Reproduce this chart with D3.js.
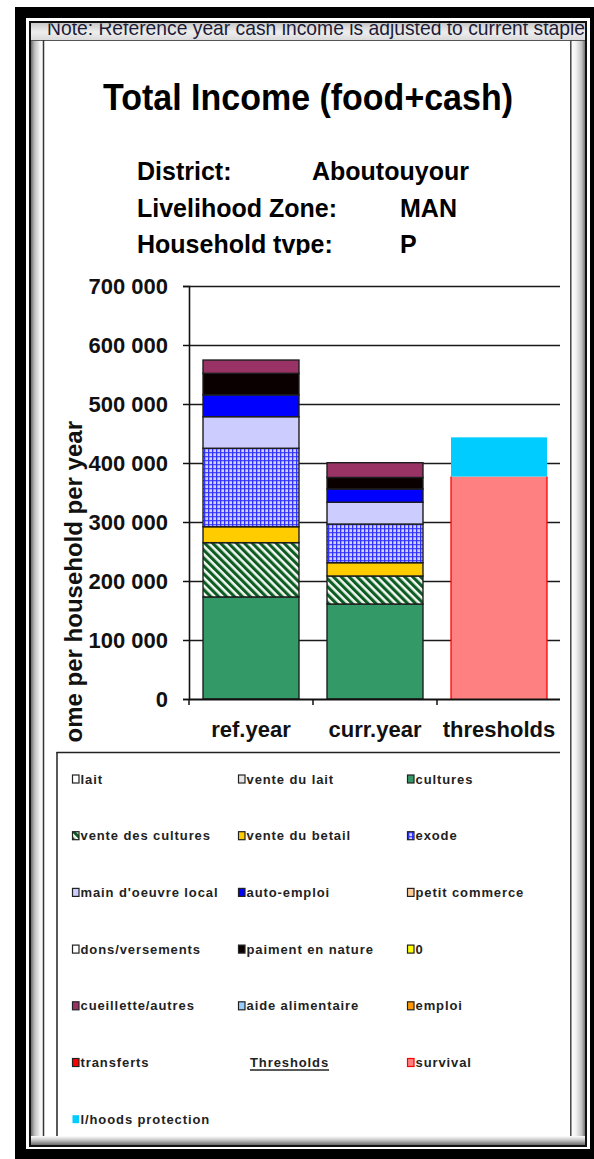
<!DOCTYPE html>
<html><head><meta charset="utf-8">
<script src="https://cdn.jsdelivr.net/npm/d3@7"></script>
<style>
html,body{margin:0;padding:0;background:#fff;}
svg{display:block;}
text{font-family:"Liberation Sans",Arial,Helvetica,sans-serif;}
</style></head><body>
<svg id="chart" width="594" height="1159"></svg>
<script>
// ---------------- data ----------------
const categories = ["ref.year", "curr.year", "thresholds"];
const incomeSources = ["cultures", "vente des cultures", "vente du betail", "exode",
  "main d'oeuvre local", "auto-emploi", "paiment en nature", "cueillette/autres"];
const refYearValues  = [173000, 92000, 27000, 133000, 53500, 37000, 36500, 22500];
const currYearValues = [161000, 47500, 22500, 65500, 37000, 22500, 19500, 25000];
const thresholdNames  = ["survival", "l/hoods protection"];
const thresholdValues = [377000, 66500];
const yTickValues = [0, 100000, 200000, 300000, 400000, 500000, 600000, 700000];
const legendLabels = ["lait", "vente du lait", "cultures",
  "vente des cultures", "vente du betail", "exode",
  "main d'oeuvre local", "auto-emploi", "petit commerce",
  "dons/versements", "paiment en nature", "0",
  "cueillette/autres", "aide alimentaire", "emploi",
  "transferts", "Thresholds", "survival",
  "l/hoods protection"];
const titleText = "Total Income (food+cash)";
const noteText = "Note: Reference year cash income is adjusted to current staple";
const headerLabels = ["District:", "Livelihood Zone:", "Household tvpe:"];
const headerValues = ["Aboutouyour", "MAN", "P"];
const yAxisTitle = "ome per household per year";

// ---------------- styles ----------------
const fills = {
  "lait": "#ffffff", "vente du lait": "#e6e6e6", "cultures": "#339966",
  "vente des cultures": "url(#stripe)", "vente du betail": "#ffcc00", "exode": "url(#grid)",
  "main d'oeuvre local": "#ccccff", "auto-emploi": "#0000ff", "petit commerce": "#ffcc99",
  "dons/versements": "#ffffff", "paiment en nature": "#0a0000", "0": "#ffff00",
  "cueillette/autres": "#993366", "aide alimentaire": "#99ccff", "emploi": "#ff9900",
  "transferts": "#ff0000", "survival": "#ff8080", "l/hoods protection": "#00ccff"
};

const svg = d3.select("#chart");
const defs = svg.append("defs");

function linGrad(id, x2, y2, stops) {
  const g = defs.append("linearGradient").attr("id", id)
    .attr("x1", 0).attr("y1", 0).attr("x2", x2).attr("y2", y2);
  stops.forEach(s => g.append("stop").attr("offset", s[0]).attr("stop-color", s[1]));
}
linGrad("gL", 1, 0, [[0, "#6e6e6e"], [0.3, "#bdbdbd"], [0.75, "#f4f4f4"], [1, "#ffffff"]]);
linGrad("gR", 1, 0, [[0, "#ffffff"], [0.35, "#f2f2f2"], [0.75, "#c4c4c4"], [1, "#767676"]]);
linGrad("gT", 0, 1, [[0, "#c8c8c8"], [0.5, "#eeeeee"], [1, "#d8d8d8"]]);
linGrad("gB", 0, 1, [[0, "#ffffff"], [0.4, "#cfcfcf"], [1, "#6a6a6a"]]);

const pStripe = defs.append("pattern").attr("id", "stripe")
  .attr("patternUnits", "userSpaceOnUse").attr("width", 5.6).attr("height", 5.6)
  .attr("patternTransform", "rotate(-45)");
pStripe.append("rect").attr("width", 5.6).attr("height", 5.6).attr("fill", "#f4f8f4");
pStripe.append("rect").attr("width", 3.1).attr("height", 5.6).attr("fill", "#0d5c22");

const pGrid = defs.append("pattern").attr("id", "grid")
  .attr("patternUnits", "userSpaceOnUse").attr("width", 4).attr("height", 4);
pGrid.append("rect").attr("width", 4).attr("height", 4).attr("fill", "#d2d2ff");
pGrid.append("rect").attr("width", 4).attr("height", 1.3).attr("fill", "#4a4aff");
pGrid.append("rect").attr("width", 1.3).attr("height", 4).attr("fill", "#3030ff");

defs.append("clipPath").attr("id", "chartClip").append("rect")
  .attr("x", 43).attr("y", 41).attr("width", 517).attr("height", 1100);
defs.append("clipPath").attr("id", "headClip").append("rect")
  .attr("x", 43).attr("y", 41).attr("width", 517).attr("height", 214);
defs.append("clipPath").attr("id", "noteClip").append("rect")
  .attr("x", 31).attr("y", 23.5).attr("width", 554).attr("height", 16.5);
defs.append("clipPath").attr("id", "plotClip").append("rect")
  .attr("x", 43).attr("y", 255).attr("width", 517).attr("height", 497);

// ---------------- frame ----------------
svg.append("rect").attr("x", 15).attr("y", 7).attr("width", 579).attr("height", 1152).attr("fill", "#000");
svg.append("rect").attr("x", 26).attr("y", 18).attr("width", 564).attr("height", 1131).attr("fill", "#fff");
svg.append("rect").attr("x", 29).attr("y", 21).attr("width", 558).attr("height", 1126).attr("fill", "#111");
svg.append("rect").attr("x", 31).attr("y", 23).attr("width", 554).attr("height", 1122).attr("fill", "#d0d0d0");
svg.append("rect").attr("x", 31).attr("y", 23).attr("width", 12).attr("height", 1122).attr("fill", "url(#gL)");
svg.append("rect").attr("x", 571).attr("y", 23).attr("width", 14).attr("height", 1122).attr("fill", "url(#gR)");
svg.append("rect").attr("x", 31).attr("y", 23).attr("width", 554).attr("height", 18).attr("fill", "url(#gT)");
svg.append("rect").attr("x", 43).attr("y", 41).attr("width", 528).attr("height", 1100).attr("fill", "#fff");

// note (clipped at the top)
svg.append("text").attr("clip-path", "url(#noteClip)")
  .attr("x", 47).attr("y", 34.5).attr("font-size", 21).attr("fill", "#1c1c38")
  .attr("textLength", 538).attr("lengthAdjust", "spacingAndGlyphs")
  .text(noteText);
svg.append("line").attr("x1", 31).attr("x2", 585).attr("y1", 40.5).attr("y2", 40.5)
  .attr("stroke", "#555").attr("stroke-width", 1);
svg.append("line").attr("x1", 43.5).attr("x2", 43.5).attr("y1", 40).attr("y2", 1141)
  .attr("stroke", "#333").attr("stroke-width", 1.5);
svg.append("line").attr("x1", 570.8).attr("x2", 570.8).attr("y1", 40).attr("y2", 1141)
  .attr("stroke", "#444").attr("stroke-width", 1.5);

// ---------------- chart content ----------------
const chart = svg.append("g").attr("clip-path", "url(#chartClip)");

// title & header
chart.append("text").attr("x", 308).attr("y", 110).attr("text-anchor", "middle")
  .attr("font-size", 37).attr("font-weight", "bold").attr("fill", "#000")
  .attr("textLength", 410).attr("lengthAdjust", "spacingAndGlyphs")
  .text(titleText);
const head = chart.append("g").attr("clip-path", "url(#headClip)");
const headY = [180, 217, 253];
const headValX = [312, 400, 400];
headerLabels.forEach((t, i) => {
  head.append("text").attr("x", 137).attr("y", headY[i]).attr("font-size", 25)
    .attr("font-weight", "bold").attr("fill", "#000").text(t);
  head.append("text").attr("x", headValX[i]).attr("y", headY[i]).attr("font-size", 25)
    .attr("font-weight", "bold").attr("fill", "#000").text(headerValues[i]);
});

// scales
const y = d3.scaleLinear().domain([0, 700000]).range([699, 286]);
const x = d3.scaleBand().domain(categories).range([189, 561])
  .paddingInner(0.226).paddingOuter(0.113);

const plot = chart.append("g").attr("clip-path", "url(#plotClip)");

// gridlines
plot.append("g").attr("transform", "translate(189,0)")
  .call(d3.axisLeft(y).tickValues(yTickValues.slice(1)).tickSize(-372).tickFormat(""))
  .call(g => g.select(".domain").remove())
  .call(g => g.selectAll("line").attr("stroke", "#1a1a1a").attr("stroke-width", 1.5));

// stacked bars
function stackSegments(values) {
  let acc = 0;
  return values.map((v, i) => { const s = { name: incomeSources[i], y0: acc, y1: acc + v }; acc += v; return s; });
}
const barData = [
  { cat: categories[0], segs: stackSegments(refYearValues) },
  { cat: categories[1], segs: stackSegments(currYearValues) }
];
barData.forEach(b => {
  plot.append("g").selectAll("rect").data(b.segs).join("rect")
    .attr("x", x(b.cat)).attr("width", x.bandwidth())
    .attr("y", d => y(d.y1)).attr("height", d => y(d.y0) - y(d.y1))
    .attr("fill", d => fills[d.name])
    .attr("stroke", "#1e1e1e").attr("stroke-width", 1.4);
});

// thresholds bar
let tAcc = 0;
const tSegs = thresholdValues.map((v, i) => { const s = { name: thresholdNames[i], y0: tAcc, y1: tAcc + v }; tAcc += v; return s; });
plot.append("g").selectAll("rect").data(tSegs).join("rect")
  .attr("x", x(categories[2])).attr("width", x.bandwidth())
  .attr("y", d => y(d.y1)).attr("height", d => y(d.y0) - y(d.y1))
  .attr("fill", d => fills[d.name]);
plot.append("g").selectAll("line").data([0, 1]).join("line")
  .attr("x1", d => x(categories[2]) + d * x.bandwidth())
  .attr("x2", d => x(categories[2]) + d * x.bandwidth())
  .attr("y1", y(tSegs[0].y1)).attr("y2", y(0))
  .attr("stroke", "#ff0000").attr("stroke-width", 1.3);

// y axis
const yAxisG = plot.append("g").attr("transform", "translate(189,0)")
  .call(d3.axisLeft(y).tickValues(yTickValues).tickSize(6).tickPadding(15)
    .tickFormat(d => d3.format(",")(d).replace(/,/g, " ")));
yAxisG.select(".domain").attr("stroke", "#111").attr("stroke-width", 1.6);
yAxisG.selectAll("line").attr("stroke", "#111").attr("stroke-width", 1.5);
yAxisG.selectAll("text").attr("font-size", 22).attr("font-weight", "bold")
  .attr("fill", "#111").attr("font-family", "'Liberation Sans',Arial,sans-serif");

// x axis
const xAxisG = plot.append("g").attr("transform", "translate(0,699)")
  .call(d3.axisBottom(x).tickSize(0).tickPadding(28));
xAxisG.select(".domain").attr("stroke", "#111").attr("stroke-width", 2);
xAxisG.selectAll("text").attr("font-size", 22).attr("font-weight", "bold")
  .attr("fill", "#111").attr("font-family", "'Liberation Sans',Arial,sans-serif")
  .attr("dy", "0.45em");
const bounds = categories.map(c => x(c) - x.step() * x.paddingInner() / 2)
  .concat([x(categories[2]) + x.bandwidth() + x.step() * x.paddingInner() / 2]);
xAxisG.selectAll("line.bnd").data(bounds).join("line").attr("class", "bnd")
  .attr("x1", d => d).attr("x2", d => d).attr("y1", 0).attr("y2", 6)
  .attr("stroke", "#111").attr("stroke-width", 1.5);

// y axis title (left part cut off in reference)
plot.append("text").attr("transform", "translate(82,421) rotate(-90)")
  .attr("text-anchor", "end").attr("font-size", 24).attr("font-weight", "bold")
  .attr("fill", "#111").text(yAxisTitle);

// ---------------- legend ----------------
const leg = chart.append("g");
leg.append("line").attr("x1", 56.5).attr("x2", 560).attr("y1", 752.5).attr("y2", 752.5)
  .attr("stroke", "#222").attr("stroke-width", 1.5);
leg.append("line").attr("x1", 57).attr("x2", 57).attr("y1", 752).attr("y2", 1141)
  .attr("stroke", "#222").attr("stroke-width", 1.5);
const colX = [72, 238, 407];
legendLabels.forEach((lab, i) => {
  const cx = colX[i % 3];
  const cy = 779 + Math.floor(i / 3) * 56.7;
  if (lab === "Thresholds") {
    const t = leg.append("text").attr("x", 250).attr("y", cy + 4.6).attr("font-size", 13)
      .attr("font-weight", "bold").attr("letter-spacing", 0.9).attr("fill", "#222").text(lab);
    const w = t.node().getComputedTextLength();
    leg.append("line").attr("x1", 250).attr("x2", 250 + w).attr("y1", cy + 7.5).attr("y2", cy + 7.5)
      .attr("stroke", "#222").attr("stroke-width", 1.3);
    return;
  }
  const noBorder = lab === "l/hoods protection";
  leg.append("rect").attr("x", cx + 0.5).attr("y", cy - 4).attr("width", 6.5).attr("height", 8)
    .attr("fill", fills[lab])
    .attr("stroke", noBorder ? "none" : (lab === "survival" ? "#ff0000" : "#222"))
    .attr("stroke-width", 1.2);
  leg.append("text").attr("x", cx + 8.5).attr("y", cy + 4.6).attr("font-size", 13)
    .attr("font-weight", "bold").attr("letter-spacing", 0.9).attr("fill", "#222").text(lab);
});

// bottom shading strip
svg.append("rect").attr("x", 31).attr("y", 1136).attr("width", 554).attr("height", 9).attr("fill", "url(#gB)");
</script>
</body></html>
